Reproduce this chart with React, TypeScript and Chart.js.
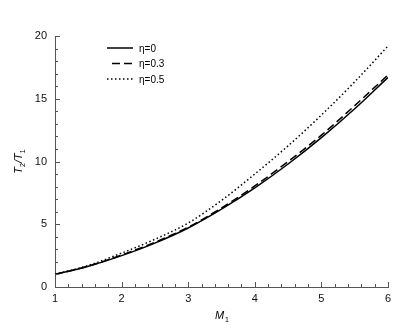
import React, { useEffect, useRef } from 'react';
import { Chart, registerables } from 'chart.js';

Chart.register(...registerables);

const machNumbers = [1, 1.5, 2, 2.5, 3, 3.5, 4, 4.5, 5, 5.5, 6];
const eta0 = [1, 1.65, 2.5, 3.5, 4.7, 6.2, 7.9, 9.8, 11.9, 14.2, 16.7];
const eta03 = [1, 1.66, 2.55, 3.56, 4.77, 6.3, 8.05, 10.0, 12.1, 14.45, 16.9];
const eta05 = [1, 1.72, 2.7, 3.8, 5.1, 6.9, 9.0, 11.25, 13.7, 16.35, 19.2];
const seriesLabels = ['η=0', 'η=0.3', 'η=0.5'];
const seriesDashes = [[], [8, 4], [1.5, 2.5]];
const xMin = 1, xMax = 6, yMin = 0, yMax = 20;

const FONT = '"Liberation Sans", Arial, sans-serif';

const decor = {
  id: 'decor',
  afterDraw(chart: any) {
    const ctx = chart.ctx;
    const xs = chart.scales.x;
    const ys = chart.scales.y;
    const area = chart.chartArea;
    ctx.save();
    ctx.strokeStyle = '#555';
    ctx.lineWidth = 1;
    ctx.setLineDash([]);
    for (let i = 0; i <= 25; i++) {
      const v = xMin + i * 0.2;
      const px = Math.round(xs.getPixelForValue(v)) + 0.5;
      const len = i % 5 === 0 ? 5 : 3;
      ctx.beginPath();
      ctx.moveTo(px, area.bottom);
      ctx.lineTo(px, area.bottom - len);
      ctx.stroke();
    }
    for (let i = 0; i <= 20; i++) {
      const v = yMin + i;
      const py = Math.round(ys.getPixelForValue(v)) + 0.5;
      const len = i % 5 === 0 ? 5 : 3;
      ctx.beginPath();
      ctx.moveTo(area.left, py);
      ctx.lineTo(area.left + len, py);
      ctx.stroke();
    }
    ctx.fillStyle = '#000';
    ctx.font = `10px ${FONT}`;
    ctx.textBaseline = 'middle';
    ctx.textAlign = 'left';
    seriesLabels.forEach((lab, i) => {
      const ly = 48 + i * 15.5;
      ctx.strokeStyle = '#000';
      ctx.lineWidth = 1.5;
      ctx.setLineDash(seriesDashes[i]);
      ctx.beginPath();
      ctx.moveTo(i === 1 ? 112 : 107, ly);
      ctx.lineTo(133, ly);
      ctx.stroke();
      ctx.fillText(lab, 139, ly + 1);
    });
    ctx.setLineDash([]);
    const cx = (area.left + area.right) / 2;
    ctx.font = `italic 11px ${FONT}`;
    ctx.textBaseline = 'alphabetic';
    const mW = ctx.measureText('M').width;
    ctx.fillText('M', cx - mW / 2 - 2, 319);
    ctx.font = `7px ${FONT}`;
    ctx.fillText('1', cx + mW / 2 - 1, 322);
    const cy = (area.top + area.bottom) / 2;
    ctx.translate(22, cy);
    ctx.rotate(-Math.PI / 2);
    const parts: [string, boolean][] = [['T', true], ['2', false], ['/T', true], ['1', false]];
    let total = 0;
    parts.forEach(([t, big]) => {
      ctx.font = big ? `italic 11px ${FONT}` : `7px ${FONT}`;
      total += ctx.measureText(t).width;
    });
    let px = -total / 2;
    parts.forEach(([t, big]) => {
      ctx.font = big ? `italic 11px ${FONT}` : `7px ${FONT}`;
      ctx.fillText(t, px, big ? 0 : 3);
      px += ctx.measureText(t).width;
    });
    ctx.restore();
  },
};

export default function App() {
  const ref = useRef<HTMLCanvasElement>(null);
  useEffect(() => {
    if (!ref.current) return;
    const mk = (vals: number[]) => machNumbers.map((m, i) => ({ x: m, y: vals[i] }));
    const chart = new Chart(ref.current, {
      type: 'line',
      data: {
        datasets: [eta0, eta03, eta05].map((vals, i) => ({
          label: seriesLabels[i],
          data: mk(vals),
          borderColor: '#000',
          borderWidth: 1.5,
          borderDash: seriesDashes[i],
          pointRadius: 0,
          fill: false,
          cubicInterpolationMode: 'monotone' as const,
        })),
      },
      options: {
        responsive: false,
        animation: false,
        layout: { padding: { top: 36, right: 27, left: 0, bottom: 0 } },
        plugins: { legend: { display: false }, tooltip: { enabled: false } },
        scales: {
          x: {
            type: 'linear',
            min: xMin,
            max: xMax,
            ticks: { stepSize: 1, padding: 5, color: '#111', font: { family: FONT, size: 11 } },
            grid: { display: false, drawTicks: false },
            border: { display: true, color: '#555', width: 1 },
            afterFit: (s: any) => { s.height = 44; },
          },
          y: {
            type: 'linear',
            min: yMin,
            max: yMax,
            ticks: { stepSize: 5, padding: 8, color: '#111', font: { family: FONT, size: 11 } },
            grid: { display: false, drawTicks: false },
            border: { display: true, color: '#555', width: 1 },
            afterFit: (s: any) => { s.width = 55; },
          },
        },
      },
      plugins: [decor],
    });
    return () => chart.destroy();
  }, []);
  return (
    <div style={{ position: 'absolute', left: 0, top: 0, width: 415, height: 331, background: '#fff' }}>
      <canvas ref={ref} width={415} height={331} />
    </div>
  );
}
